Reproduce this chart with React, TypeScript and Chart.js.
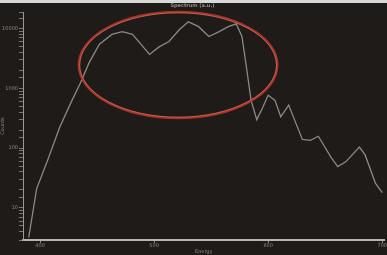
import React, { useEffect, useRef } from "react";
import { Chart, registerables } from "chart.js";

Chart.register(...registerables);

const xValues = [390, 397, 407, 417, 426, 435, 443, 452, 463, 472, 481, 496, 504, 513, 522, 530, 539, 548, 557, 565, 572, 577, 581, 585, 590, 595, 600, 606, 611, 618, 624, 630, 637, 644, 655, 661, 668, 680, 685, 694, 700];
const yValues = [3.2, 21, 66, 220, 525, 1200, 2700, 5500, 8000, 8900, 8000, 3700, 4900, 6100, 9600, 13000, 10800, 7400, 8900, 10800, 12000, 7400, 2200, 630, 300, 470, 770, 630, 335, 525, 270, 140, 135, 158, 71, 49, 59, 104, 77, 26, 18];
const xTicks = [400, 500, 600, 700];
const yTicks = [10, 100, 1000, 10000];
const titleText = "Spectrum (a.u.)";
const xTitle = "Energy";
const yTitle = "Counts";
// highlight ellipse in data units
const ellipseCenterX = 521;
const ellipseHalfWidthX = 87;
const ellipseTopY = 19000;
const ellipseBottomY = 320;

export default function App() {
  const ref = useRef<HTMLCanvasElement>(null);
  useEffect(() => {
    document.body.style.margin = "0";
    const ellipsePlugin = {
      id: "ellipse",
      afterDatasetsDraw(chart: any) {
        const { ctx, scales } = chart;
        const cx = scales.x.getPixelForValue(ellipseCenterX);
        const rx = scales.x.getPixelForValue(ellipseCenterX + ellipseHalfWidthX) - cx;
        const top = scales.y.getPixelForValue(ellipseTopY);
        const bottom = scales.y.getPixelForValue(ellipseBottomY);
        const cy = (top + bottom) / 2;
        const ry = (bottom - top) / 2;
        ctx.save();
        ctx.beginPath();
        ctx.ellipse(cx, cy, rx, ry, 0, 0, Math.PI * 2);
        ctx.strokeStyle = "#a8322a";
        ctx.lineWidth = 2.5;
        ctx.stroke();
        ctx.beginPath();
        ctx.ellipse(cx, cy, rx - 0.8, ry - 0.8, 0, 0, Math.PI * 2);
        ctx.strokeStyle = "rgba(230,150,130,0.6)";
        ctx.lineWidth = 0.8;
        ctx.stroke();
        ctx.restore();
      },
    };
    const chart = new Chart(ref.current!, {
      type: "line",
      data: {
        datasets: [
          {
            data: xValues.map((x, i) => ({ x, y: yValues[i] })),
            borderColor: "#8a8985",
            borderWidth: 1.3,
            pointRadius: 0,
            tension: 0,
          },
        ],
      },
      options: {
        animation: false,
        responsive: false,
        maintainAspectRatio: false,
        layout: { padding: { top: 0, right: 2, left: 0, bottom: 0 } },
        plugins: {
          legend: { display: false },
          tooltip: { enabled: false },
          title: {
            display: true,
            text: titleText,
            color: "#8f8f8b",
            font: { size: 5, family: "DejaVu Sans" },
            padding: { top: 3, bottom: 3 },
          },
        },
        scales: {
          x: {
            type: "linear",
            min: 385,
            max: 702,
            afterBuildTicks: (s: any) => {
              s.ticks = xTicks.map((v) => ({ value: v }));
            },
            ticks: { color: "#8a8a86", font: { size: 5, family: "DejaVu Sans" }, padding: 0, maxRotation: 0 },
            grid: { display: true, drawOnChartArea: false, color: "#8a8a86", tickLength: 3 },
            border: { color: "#b5b5b0", width: 2 },
            title: { display: true, text: xTitle, color: "#8a8a86", font: { size: 5, family: "DejaVu Sans" }, padding: 0 },
          },
          y: {
            type: "logarithmic",
            min: 2.9,
            max: 19000,
            afterFit: (s: any) => {
              s.width = 23;
            },
            ticks: {
              color: "#8a8a86",
              font: { size: 5, family: "DejaVu Sans" },
              padding: 1,
              autoSkip: false,
              callback: (v: any) => (yTicks.includes(Number(v)) ? String(v) : ""),
            },
            grid: { display: true, drawOnChartArea: false, color: "#77766f", tickLength: 4 },
            border: { color: "#9a9a96", width: 1 },
            title: { display: true, text: yTitle, color: "#8a8a86", font: { size: 5, family: "DejaVu Sans" }, padding: 0 },
          },
        },
      },
      plugins: [
        ellipsePlugin,
        {
          id: "bg",
          beforeDraw(chart: any) {
            const { ctx, width, height } = chart;
            ctx.save();
            ctx.fillStyle = "#1f1b18";
            ctx.fillRect(0, 0, width, height);
            ctx.fillStyle = "#d8d8d8";
            ctx.fillRect(0, 0, width, 3);
            ctx.restore();
          },
        },
      ],
    });
    return () => chart.destroy();
  }, []);
  return (
    <div style={{ width: 387, height: 255, background: "#1f1b18" }}>
      <canvas ref={ref} width={387} height={255} style={{ display: "block" }} />
    </div>
  );
}
